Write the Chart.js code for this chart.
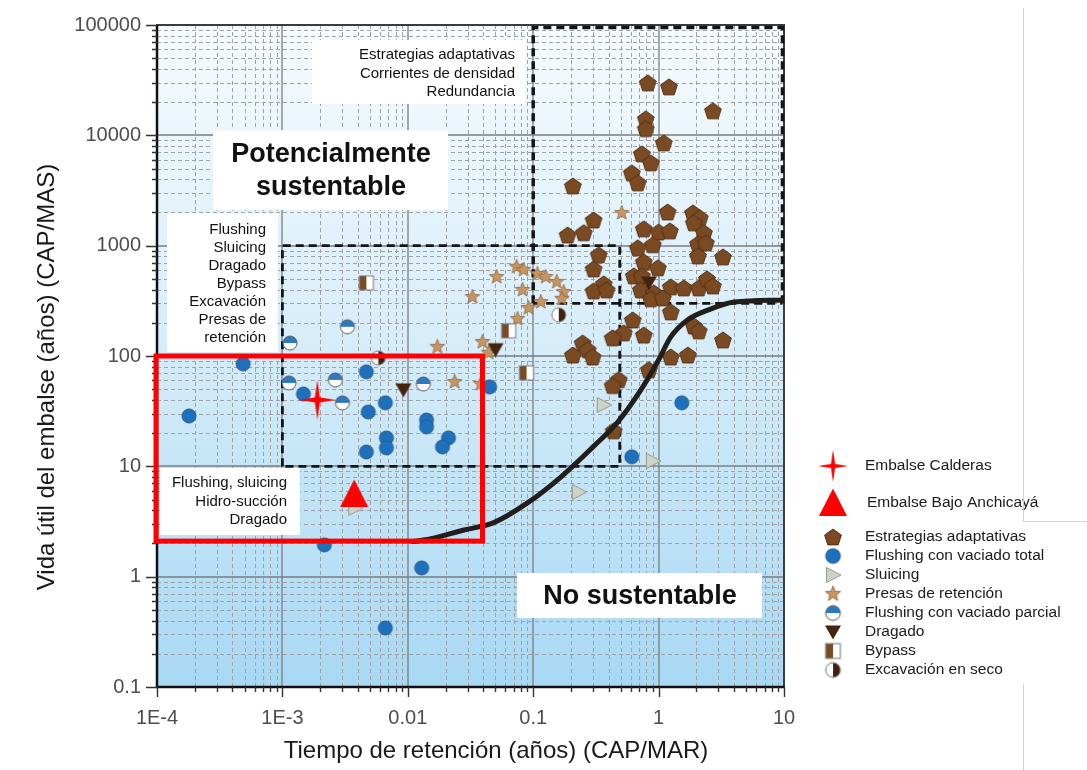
<!DOCTYPE html>
<html>
<head>
<meta charset="utf-8">
<script src="https://cdn.jsdelivr.net/npm/chart.js@4.4.1/dist/chart.umd.min.js"></script>
<style>
  html, body { margin: 0; padding: 0; background: #ffffff; }
  canvas { display: block; }
</style>
</head>
<body>
<canvas id="chart" width="1087" height="770" style="width:1087px;height:770px"></canvas>
<script>
// ---- Axis ticks -------------------------------------------------------
const xTickValues = [1e-4, 1e-3, 0.01, 0.1, 1, 10];
const xTickLabels = ['1E-4', '1E-3', '0.01', '0.1', '1', '10'];
const yTickValues = [0.1, 1, 10, 100, 1000, 10000, 100000];
const yTickLabels = ['0.1', '1', '10', '100', '1000', '10000', '100000'];

// ---- Reservoirs (retention time CAP/MAR, useful life CAP/MAS) ---------
const calderasX = [1.90e-3];
const calderasY = [40.0];

const anchicayaX = [3.74e-3];
const anchicayaY = [5.62];

const adaptX = [0.82, 1.21, 2.71, 0.79, 0.79, 1.10, 0.735, 0.867, 0.611, 0.682, 0.207, 0.303, 0.188, 0.253,
  1.18, 1.88, 2.13, 1.91, 2.30, 0.762, 1.00, 1.23, 2.06, 2.38, 0.90, 0.682, 0.333, 3.26, 2.06, 0.303,
  0.762, 0.986, 0.634, 0.735, 0.365, 0.303, 0.385, 0.721, 0.917, 1.25, 1.59, 2.09, 2.43, 2.71, 0.867,
  1.08, 1.25, 0.622, 0.527, 0.430, 0.762, 1.91, 2.09, 3.26, 0.207, 0.248, 0.272, 0.298, 1.25, 1.71,
  0.836, 0.481, 0.430, 0.438];
const adaptY = [29900, 27500, 16700, 14100, 11500, 8550, 6800, 5630, 4570, 3710, 3480, 1710, 1250, 1310,
  2020, 1980, 1790, 1610, 1310, 1420, 1330, 1360, 1040, 1060, 1020, 955, 826, 791, 808, 616,
  713, 630, 532, 532, 451, 389, 397, 397, 373, 423, 414, 414, 500, 432, 330,
  336, 251, 212, 162, 146, 155, 187, 169, 140, 102, 131, 114, 98, 98, 102,
  75, 61, 54, 21];

const flushTotalX = [1.80e-4, 4.86e-4, 1.47e-3, 4.67e-3, 4.84e-3, 6.62e-3, 6.75e-3, 6.75e-3, 4.67e-3,
  0.0141, 0.0141, 0.0211, 0.0189, 2.16e-3, 0.0129, 6.62e-3, 0.0449, 1.53, 0.611];
const flushTotalY = [28.6, 84.8, 45.3, 71.8, 31.1, 37.6, 18.1, 14.7, 13.5,
  26.3, 22.8, 18.1, 15.0, 1.94, 1.20, 0.343, 52.5, 37.6, 12.2];

const sluicingX = [0.365, 0.90, 0.231, 3.81e-3];
const sluicingY = [36.0, 11.2, 5.86, 4.2];

const checkDamX = [0.0172, 0.0236, 0.038, 0.0328, 0.0511, 0.0736, 0.0837, 0.108, 0.126, 0.154,
  0.175, 0.169, 0.0822, 0.115, 0.0918, 0.075, 0.0394, 0.0441, 0.508];
const checkDamY = [121, 58.2, 55.8, 343, 521, 643, 604, 555, 521, 470,
  381, 330, 397, 309, 273, 217, 134, 107, 1980];

const flushPartialX = [3.30e-3, 1.15e-3, 1.13e-3, 2.64e-3, 3.01e-3, 0.0133];
const flushPartialY = [184, 131, 57.0, 60.7, 37.6, 55.8];

const dredgingX = [9.23e-3, 0.0501, 0.836];
const dredgingY = [49.3, 114, 460];

const bypassX = [4.67e-3, 0.0637, 0.0885];
const bypassY = [460, 169, 70.3];

const dryExcavX = [0.160, 5.82e-3];
const dryExcavY = [236, 96.1];

// ---- Sustainability boundary ------------------------------------------
const limitX = [0.011, 0.015, 0.028, 0.048, 0.09, 0.166, 0.30, 0.47, 0.72, 1.0, 1.25, 1.7, 2.5, 4.0, 10];
const limitY = [2.08, 2.2, 2.65, 3.07, 4.66, 8.0, 15, 25, 49, 92, 149, 212, 262, 308, 322];

// ---- Strategy regions (x range, y range) -------------------------------
const adaptiveZoneX = [0.1, 10];
const adaptiveZoneY = [300, 100000];
const managementZoneX = [1e-3, 0.49];
const managementZoneY = [10, 1000];
const studyZoneX = [1e-4, 0.0394];
const studyZoneY = [2.1, 100];

const FONT = '"Liberation Sans", Arial, Helvetica, sans-serif';

// ---- Marker glyphs ----------------------------------------------------
function glyph(size, draw) {
  const c = document.createElement('canvas');
  c.width = size; c.height = size;
  const g = c.getContext('2d');
  g.translate(size / 2, size / 2);
  draw(g);
  return c;
}
function poly(g, pts) {
  g.beginPath();
  pts.forEach((p, i) => i ? g.lineTo(p[0], p[1]) : g.moveTo(p[0], p[1]));
  g.closePath();
}
function starPts(n, rOut, rIn, rOutX) {
  const pts = [];
  for (let k = 0; k < n * 2; k++) {
    const a = -Math.PI / 2 + k * Math.PI / n;
    const r = k % 2 === 0 ? rOut : rIn;
    const rx = k % 2 === 0 && rOutX ? rOutX : r;
    pts.push([Math.cos(a) * rx, Math.sin(a) * r]);
  }
  return pts;
}

const icons = {
  calderas: glyph(44, g => {
    poly(g, starPts(4, 20, 3.6, 18.5));
    g.fillStyle = '#ff0000'; g.fill();
  }),
  anchicaya: glyph(32, g => {
    poly(g, [[0, -14.5], [14, 13], [-14, 13]]);
    g.fillStyle = '#ff0000'; g.fill();
  }),
  adapt: glyph(22, g => {
    const pts = [];
    for (let k = 0; k < 5; k++) {
      const a = -Math.PI / 2 + k * 2 * Math.PI / 5;
      pts.push([Math.cos(a) * 8.8, Math.sin(a) * 8.8 + 0.8]);
    }
    poly(g, pts);
    g.fillStyle = '#7a4a22'; g.fill();
    g.lineWidth = 1; g.strokeStyle = '#553217'; g.stroke();
  }),
  flushTotal: glyph(18, g => {
    g.beginPath(); g.arc(0, 0, 7, 0, Math.PI * 2);
    g.fillStyle = '#1d70bb'; g.fill();
    g.lineWidth = 1; g.strokeStyle = '#2a5a88'; g.stroke();
  }),
  sluicing: glyph(20, g => {
    poly(g, [[-6.5, -7.5], [8, 0], [-6.5, 7.5]]);
    g.fillStyle = '#cdd4c6'; g.fill();
    g.lineWidth = 1; g.strokeStyle = '#959c8e'; g.stroke();
  }),
  checkDam: glyph(18, g => {
    poly(g, starPts(5, 7.6, 3.3));
    g.fillStyle = '#c8955e'; g.fill();
    g.lineWidth = 0.8; g.strokeStyle = '#8c6a49'; g.stroke();
  }),
  flushPartial: glyph(18, g => {
    g.beginPath(); g.arc(0, 0, 7, 0, Math.PI * 2);
    g.fillStyle = '#ffffff'; g.fill();
    g.beginPath(); g.arc(0, 0, 7, Math.PI, 0); g.closePath();
    g.fillStyle = '#2b79c2'; g.fill();
    g.beginPath(); g.arc(0, 0, 7, 0, Math.PI * 2);
    g.lineWidth = 1; g.strokeStyle = '#5b5b5b'; g.stroke();
  }),
  dredging: glyph(20, g => {
    poly(g, [[-8, -6.5], [8, -6.5], [0, 7.5]]);
    g.fillStyle = '#43250e'; g.fill();
  }),
  bypass: glyph(18, g => {
    g.fillStyle = '#7a4a22'; g.fillRect(-7, -7, 7, 14);
    g.fillStyle = '#ffffff'; g.fillRect(0, -7, 7, 14);
    g.lineWidth = 1; g.strokeStyle = '#7a7a7a'; g.strokeRect(-7, -7, 14, 14);
  }),
  dryExcav: glyph(18, g => {
    g.beginPath(); g.arc(0, 0, 7, 0, Math.PI * 2);
    g.fillStyle = '#ffffff'; g.fill();
    g.beginPath(); g.arc(0, 0, 7, -Math.PI / 2, Math.PI / 2); g.closePath();
    g.fillStyle = '#3e210e'; g.fill();
    g.beginPath(); g.arc(0, 0, 7, 0, Math.PI * 2);
    g.lineWidth = 1; g.strokeStyle = '#7a7a7a'; g.stroke();
  })
};

const pts = (xs, ys) => xs.map((v, i) => ({ x: v, y: ys[i] }));
const marks = (label, xs, ys, icon, order) => ({
  label, data: pts(xs, ys), pointStyle: icon, pointRadius: 6, pointHoverRadius: 6,
  showLine: false, order, legendIcon: icon
});

const datasets = [
  marks('Embalse Calderas', calderasX, calderasY, icons.calderas, -3),
  marks('Embalse Bajo Anchicayá', anchicayaX, anchicayaY, icons.anchicaya, -2),
  marks('Estrategias adaptativas', adaptX, adaptY, icons.adapt, 8),
  marks('Flushing con vaciado total', flushTotalX, flushTotalY, icons.flushTotal, 6),
  marks('Sluicing', sluicingX, sluicingY, icons.sluicing, 5),
  marks('Presas de retención', checkDamX, checkDamY, icons.checkDam, 7),
  marks('Flushing con vaciado parcial', flushPartialX, flushPartialY, icons.flushPartial, 4),
  marks('Dragado', dredgingX, dredgingY, icons.dredging, 3),
  marks('Bypass', bypassX, bypassY, icons.bypass, 2),
  marks('Excavación en seco', dryExcavX, dryExcavY, icons.dryExcav, 1),
  {
    label: 'Límite de sustentabilidad', data: pts(limitX, limitY), showLine: true,
    pointRadius: 0, borderColor: '#221e1c', borderWidth: 5, cubicInterpolationMode: 'monotone',
    order: -1, fill: false, borderCapStyle: 'round'
  }
];

// ---- Annotation boxes (canvas px) -------------------------------------
const noteBoxes = [
  { x: 312, y: 40, w: 213, h: 64, font: '15px ' + FONT, align: 'right', tx: 515,
    lines: ['Estrategias adaptativas', 'Corrientes de densidad', 'Redundancia'], ys: [55, 73.5, 92] },
  { x: 213, y: 130, w: 235, h: 80, font: 'bold 27px ' + FONT, align: 'center', tx: 331,
    lines: ['Potencialmente', 'sustentable'], ys: [155, 188] },
  { x: 167, y: 213, w: 111, h: 139, font: '15px ' + FONT, align: 'right', tx: 266,
    lines: ['Flushing', 'Sluicing', 'Dragado', 'Bypass', 'Excavación', 'Presas de', 'retención'],
    ys: [230, 248, 266, 284, 302, 320, 338] },
  { x: 160, y: 468, w: 140, h: 67, font: '15px ' + FONT, align: 'right', tx: 287,
    lines: ['Flushing, sluicing', 'Hidro-succión', 'Dragado'], ys: [483, 502, 520] },
  { x: 517, y: 573, w: 245, h: 45, font: 'bold 27px ' + FONT, align: 'center', tx: 640,
    lines: ['No sustentable'], ys: [597] }
];

const decor = {
  id: 'decor',
  beforeDatasetsDraw(chart) {
    const { ctx, chartArea: a, scales: { x, y } } = chart;
    const X = v => x.getPixelForValue(v);
    const Y = v => y.getPixelForValue(v);
    ctx.save();

    // plot background
    const grad = ctx.createLinearGradient(0, a.top, 0, a.bottom);
    grad.addColorStop(0, '#f6fbfe');
    grad.addColorStop(0.45, '#d9eefa');
    grad.addColorStop(1, '#a8d8f3');
    ctx.fillStyle = grad;
    ctx.fillRect(a.left, a.top, a.right - a.left, a.bottom - a.top);

    // minor grid
    ctx.strokeStyle = '#9fa3a6'; ctx.lineWidth = 1; ctx.setLineDash([4, 3]);
    ctx.beginPath();
    for (let d = -4; d < 1; d++) for (let m = 2; m < 10; m++) {
      const px = Math.round(X(m * Math.pow(10, d))) + 0.5;
      ctx.moveTo(px, a.top); ctx.lineTo(px, a.bottom);
    }
    for (let d = -1; d < 5; d++) for (let m = 2; m < 10; m++) {
      const py = Math.round(Y(m * Math.pow(10, d))) + 0.5;
      ctx.moveTo(a.left, py); ctx.lineTo(a.right, py);
    }
    ctx.stroke();

    // decade grid
    ctx.setLineDash([]); ctx.strokeStyle = '#7b7d7f'; ctx.lineWidth = 1.3;
    ctx.beginPath();
    xTickValues.slice(1, -1).forEach(v => { const px = Math.round(X(v)); ctx.moveTo(px, a.top); ctx.lineTo(px, a.bottom); });
    yTickValues.slice(1, -1).forEach(v => { const py = Math.round(Y(v)); ctx.moveTo(a.left, py); ctx.lineTo(a.right, py); });
    ctx.stroke();

    // frame
    ctx.strokeStyle = '#3c3c3c'; ctx.lineWidth = 2;
    ctx.strokeRect(a.left, a.top, a.right - a.left, a.bottom - a.top);
    ctx.strokeStyle = '#111111'; ctx.lineWidth = 2.5;
    ctx.beginPath();
    ctx.moveTo(a.left, a.top); ctx.lineTo(a.left, a.bottom); ctx.lineTo(a.right, a.bottom);
    ctx.stroke();

    // tick marks
    ctx.strokeStyle = '#333333'; ctx.lineWidth = 1.4;
    ctx.beginPath();
    for (let d = -1; d < 5; d++) for (let m = 1; m < 10; m++) {
      const py = Math.round(Y(m * Math.pow(10, d))) + 0.5;
      ctx.moveTo(a.left, py); ctx.lineTo(a.left - (m === 1 ? 11 : 5), py);
    }
    ctx.moveTo(a.left, Math.round(Y(1e5)) + 0.5); ctx.lineTo(a.left - 11, Math.round(Y(1e5)) + 0.5);
    for (let d = -4; d < 1; d++) for (let m = 1; m < 10; m++) {
      const px = Math.round(X(m * Math.pow(10, d))) + 0.5;
      ctx.moveTo(px, a.bottom); ctx.lineTo(px, a.bottom + (m === 1 ? 10 : 5));
    }
    ctx.moveTo(Math.round(X(10)) + 0.5, a.bottom); ctx.lineTo(Math.round(X(10)) + 0.5, a.bottom + 10);
    ctx.stroke();

    // strategy regions (dashed)
    ctx.strokeStyle = '#141414'; ctx.lineCap = 'butt';
    ctx.lineWidth = 3.5; ctx.setLineDash([8, 5]);
    const x0 = X(adaptiveZoneX[0]), x1 = X(adaptiveZoneX[1]) - 1.5;
    const y0 = Y(adaptiveZoneY[0]), y1 = Y(adaptiveZoneY[1]) + 2.5;
    ctx.beginPath();
    ctx.moveTo(x0, y0); ctx.lineTo(x0, y1); ctx.lineTo(x1, y1); ctx.lineTo(x1, y0);
    ctx.stroke();
    ctx.lineWidth = 2.8;
    ctx.beginPath(); ctx.moveTo(x0, y0); ctx.lineTo(x1, y0); ctx.stroke();

    const mx0 = X(managementZoneX[0]), mx1 = X(managementZoneX[1]);
    const my0 = Y(managementZoneY[0]), my1 = Y(managementZoneY[1]);
    ctx.lineWidth = 2.8; ctx.setLineDash([8, 5]);
    ctx.beginPath();
    ctx.moveTo(mx0, my0); ctx.lineTo(mx0, my1); ctx.lineTo(mx1, my1); ctx.lineTo(mx1, my0); ctx.closePath();
    ctx.stroke();
    ctx.setLineDash([]);

    // annotation boxes
    noteBoxes.forEach(b => {
      ctx.fillStyle = '#ffffff';
      ctx.fillRect(b.x, b.y, b.w, b.h);
      ctx.fillStyle = '#111111';
      ctx.font = b.font; ctx.textAlign = b.align; ctx.textBaseline = 'middle';
      b.lines.forEach((t, i) => ctx.fillText(t, b.tx, b.ys[i]));
    });
    ctx.restore();
  },
  afterDatasetsDraw(chart) {
    const { ctx, scales: { x, y } } = chart;
    const sx0 = x.getPixelForValue(studyZoneX[0]), sx1 = x.getPixelForValue(studyZoneX[1]);
    const sy0 = y.getPixelForValue(studyZoneY[0]), sy1 = y.getPixelForValue(studyZoneY[1]);
    ctx.save();
    ctx.strokeStyle = '#ff0000'; ctx.lineWidth = 5; ctx.lineJoin = 'miter';
    ctx.strokeRect(sx0 - 1, sy1, sx1 - sx0 + 1, sy0 - sy1);
    ctx.restore();
  },
  afterDraw(chart) {
    const { ctx } = chart;
    ctx.save();
    // axis titles
    ctx.fillStyle = '#1a1a1a'; ctx.textAlign = 'center'; ctx.textBaseline = 'middle';
    ctx.font = '24px ' + FONT;
    ctx.fillText('Tiempo de retención (años) (CAP/MAR)', 496, 751);
    ctx.translate(47, 377); ctx.rotate(-Math.PI / 2);
    ctx.fillText('Vida útil del embalse (años) (CAP/MAS)', 0, 0);
    ctx.restore();

    // legend
    ctx.save();
    const rowsY = [466, 503, 537, 556, 575, 594, 613, 632, 651, 670];
    const textX = [865, 867, 865, 865, 865, 865, 865, 865, 865, 865];
    const iconScale = [0.8, 1, 1, 1.05, 1, 1.05, 1.05, 1, 1.05, 1.05];
    ctx.font = '15.5px ' + FONT; ctx.fillStyle = '#1b1b1b';
    ctx.textAlign = 'left'; ctx.textBaseline = 'middle';
    let row = 0;
    chart.data.datasets.forEach(ds => {
      if (!ds.legendIcon) return;
      const ic = ds.legendIcon, s = iconScale[row];
      const w = ic.width * s, h = ic.height * s;
      ctx.drawImage(ic, 833 - w / 2, rowsY[row] - h / 2, w, h);
      ctx.fillText(ds.label, textX[row], rowsY[row]);
      row++;
    });

    // page rules at the right edge
    ctx.strokeStyle = '#d2d2d2'; ctx.lineWidth = 1;
    ctx.beginPath();
    ctx.moveTo(1023.5, 8); ctx.lineTo(1023.5, 521.5); ctx.lineTo(1087, 521.5);
    ctx.moveTo(1023.5, 684); ctx.lineTo(1023.5, 770);
    ctx.stroke();
    ctx.restore();
  }
};

new Chart(document.getElementById('chart').getContext('2d'), {
  type: 'scatter',
  data: { datasets },
  options: {
    responsive: false,
    animation: false,
    devicePixelRatio: 1,
    events: [],
    layout: { padding: { left: 0, right: 303, top: 25, bottom: 0 } },
    plugins: { legend: { display: false }, tooltip: { enabled: false } },
    scales: {
      x: {
        type: 'logarithmic', min: 1e-4, max: 10,
        afterBuildTicks: s => { s.ticks = xTickValues.map(v => ({ value: v })); },
        afterFit: s => { s.height = 83; },
        ticks: {
          autoSkip: false, maxRotation: 0, padding: 11, color: '#4e4e4e',
          font: { family: FONT, size: 20 },
          callback: (v, i) => xTickLabels[i]
        },
        grid: { display: false },
        border: { display: false }
      },
      y: {
        type: 'logarithmic', min: 0.1, max: 100000,
        afterBuildTicks: s => { s.ticks = yTickValues.map(v => ({ value: v })); },
        afterFit: s => { s.width = 157; },
        ticks: {
          autoSkip: false, padding: 8, color: '#4e4e4e',
          font: { family: FONT, size: 20 },
          callback: (v, i) => yTickLabels[i]
        },
        grid: { display: false },
        border: { display: false }
      }
    }
  },
  plugins: [decor]
});
</script>
</body>
</html>
